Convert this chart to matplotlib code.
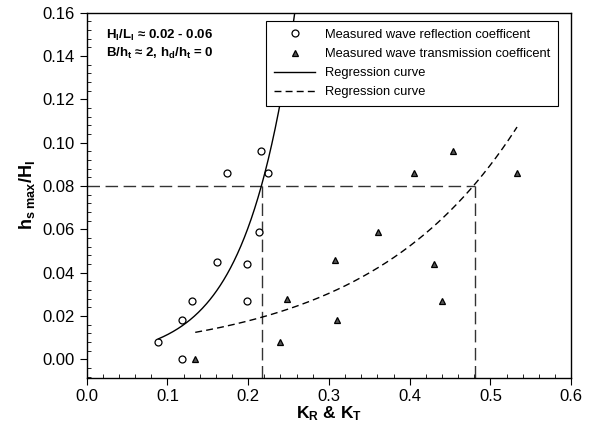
import numpy as np
import matplotlib
matplotlib.use("Agg")
import matplotlib.pyplot as plt
from matplotlib.ticker import MultipleLocator

# Données
kr = [0.088, 0.118, 0.118, 0.130, 0.161, 0.174, 0.198, 0.199, 0.213, 0.216, 0.225]
hs_kr = [0.008, 0.000, 0.018, 0.027, 0.045, 0.086, 0.027, 0.044, 0.059, 0.096, 0.086]

kt = [0.134, 0.240, 0.248, 0.308, 0.310, 0.361, 0.405, 0.430, 0.440, 0.454, 0.533]
hs_kt = [0.000, 0.008, 0.028, 0.046, 0.018, 0.059, 0.086, 0.044, 0.027, 0.096, 0.086]

# courbes de régression y = y0 * exp(b * (x - x0)), paramètres estimés
reg_r = {"x0": 0.089, "y0": 0.0095, "b": 16.74, "xmax": 0.258}
reg_t = {"x0": 0.1344, "y0": 0.01246, "b": 5.40, "xmax": 0.533}

# niveau de référence et intersections
h_ref = 0.08
kr_ref = 0.217
kt_ref = 0.481

plt.rcParams["font.family"] = ["Liberation Sans", "DejaVu Sans"]
plt.rcParams["mathtext.fontset"] = "custom"
plt.rcParams["mathtext.rm"] = "Liberation Sans"
plt.rcParams["mathtext.it"] = "Liberation Sans"
plt.rcParams["mathtext.bf"] = "Liberation Sans:bold"


def reg_curve(p):
    x = np.linspace(p["x0"], p["xmax"], 200)
    return x, p["y0"] * np.exp(p["b"] * (x - p["x0"]))


fig = plt.figure(figsize=(5.9, 4.38), dpi=100)
ax = fig.add_axes([0.147, 0.138, 0.821, 0.833])

ymin = -0.0084
# lignes de lecture
ax.plot([0, kt_ref], [h_ref, h_ref], color="#333333", lw=1.0, dashes=(9, 4))
ax.plot([kr_ref, kr_ref], [ymin, h_ref], color="#333333", lw=1.0, dashes=(9, 4))
ax.plot([kt_ref, kt_ref], [ymin, h_ref], color="#333333", lw=1.0, dashes=(9, 4))

ax.plot(kr, hs_kr, "o", ls="none", mfc="white", mec="black", ms=5, mew=0.9,
        label="Measured wave reflection coefficent")
ax.plot(kt, hs_kt, "^", ls="none", mfc="#555555", mec="black", ms=5, mew=0.9,
        label="Measured wave transmission coefficent")
xr, yr = reg_curve(reg_r)
ax.plot(xr, yr, color="black", lw=1.0, label="Regression curve")
xt, yt = reg_curve(reg_t)
ax.plot(xt, yt, color="black", lw=1.0, dashes=(5, 3), label="Regression curve")

ax.set_xlim(0, 0.6)
ax.set_ylim(ymin, 0.16)
ax.xaxis.set_major_locator(MultipleLocator(0.1))
ax.xaxis.set_minor_locator(MultipleLocator(0.02))
ax.yaxis.set_major_locator(MultipleLocator(0.02))
ax.yaxis.set_minor_locator(MultipleLocator(0.004))
ax.xaxis.set_major_formatter(matplotlib.ticker.FormatStrFormatter("%.1f"))
ax.yaxis.set_major_formatter(matplotlib.ticker.FormatStrFormatter("%.2f"))
ax.tick_params(which="major", direction="out", length=5, width=0.8, labelsize=12)
ax.tick_params(which="minor", direction="in", length=3, width=0.6)
for s in ax.spines.values():
    s.set_linewidth(1.0)

ax.set_xlabel(r"$\mathbf{K_R}$ & $\mathbf{K_T}$", fontsize=12.5, fontweight="bold", labelpad=0)
ax.set_ylabel(r"$\mathbf{h_{s\ max}/H_I}$", fontsize=13, fontweight="bold", labelpad=4)

ax.text(0.04, 0.937, r"$\mathbf{H_I/L_I}$ ≈ 0.02 - 0.06", transform=ax.transAxes,
        fontsize=9.5, fontweight="bold", va="center")
ax.text(0.04, 0.887, r"$\mathbf{B/h_t}$ ≈ 2, $\mathbf{h_d/h_t}$ = 0", transform=ax.transAxes,
        fontsize=9.5, fontweight="bold", va="center")

leg = ax.legend(loc="upper right", bbox_to_anchor=(0.973, 0.977), borderaxespad=0,
                fontsize=9.3, frameon=True, fancybox=False, framealpha=1,
                edgecolor="black", handlelength=3.2, handletextpad=0.75,
                labelspacing=0.55, borderpad=0.6)
leg.get_frame().set_linewidth(0.8)
leg.set_zorder(5)

fig.savefig("out.png", dpi=100)
